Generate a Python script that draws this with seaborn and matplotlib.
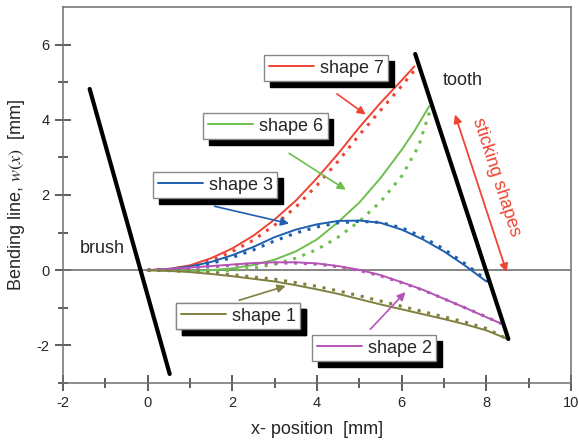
"""
Bending line of a brush filament between brush and tooth - shape comparison.
"""

import matplotlib
matplotlib.use("Agg")
import matplotlib.pyplot as plt
from matplotlib.lines import Line2D
import seaborn as sns


# ──────────────────────────────────────────────
# Data
# ──────────────────────────────────────────────

brush_x = [-1.37, 0.52]
brush_y = [4.82, -2.76]
tooth_x = [6.32, 8.52]
tooth_y = [5.75, -1.83]

shape7_x = [0, 0.5, 1, 1.5, 2, 2.5, 3, 3.5, 4, 4.5, 5, 5.5, 6, 6.3]
shape7_y = [0, 0.03, 0.13, 0.32, 0.58, 0.92, 1.35, 1.85, 2.45, 3.1, 3.8, 4.45, 5.05, 5.42]
shape7_dot_x = [0, 0.5, 1, 1.5, 2, 2.5, 3, 3.5, 4, 4.5, 5, 5.5, 6, 6.4]
shape7_dot_y = [0, 0.02, 0.1, 0.26, 0.5, 0.8, 1.2, 1.68, 2.26, 2.9, 3.6, 4.25, 4.9, 5.45]

shape6_x = [0, 0.5, 1, 1.5, 2, 2.5, 3, 3.5, 4, 4.5, 5, 5.5, 6, 6.3, 6.65]
shape6_y = [0, -0.01, -0.02, 0.0, 0.05, 0.14, 0.28, 0.5, 0.82, 1.28, 1.8, 2.45, 3.2, 3.7, 4.36]
shape6_dot_x = [0, 0.5, 1, 1.5, 2, 2.5, 3, 3.5, 4, 4.5, 5, 5.5, 6, 6.4, 6.7]
shape6_dot_y = [0, -0.01, -0.03, -0.03, 0.0, 0.06, 0.16, 0.32, 0.55, 0.88, 1.3, 1.82, 2.5, 3.3, 4.35]

shape3_x = [0, 0.5, 1, 1.5, 2, 2.5, 3, 3.5, 4, 4.5, 5, 5.5, 6, 6.5, 7, 7.5, 8.0]
shape3_y = [0, 0.03, 0.1, 0.22, 0.4, 0.62, 0.88, 1.08, 1.22, 1.31, 1.32, 1.26, 1.08, 0.82,
            0.5, 0.12, -0.3]
shape3_dot_x = [0, 0.5, 1, 1.5, 2, 2.5, 3, 3.5, 4, 4.5, 5, 5.5, 6, 6.5, 7, 7.5, 8.05]
shape3_dot_y = [0, 0.02, 0.08, 0.18, 0.34, 0.54, 0.78, 0.99, 1.15, 1.26, 1.3, 1.27, 1.13,
                0.88, 0.56, 0.17, -0.3]

shape2_x = [0, 0.5, 1, 1.5, 2, 2.5, 3, 3.5, 4, 4.5, 5, 5.5, 6, 6.5, 7, 7.5, 8, 8.35]
shape2_y = [0, 0.03, 0.07, 0.11, 0.15, 0.19, 0.21, 0.21, 0.18, 0.11, 0.01, -0.13, -0.32,
            -0.52, -0.76, -1.0, -1.25, -1.42]
shape2_dot_x = [0, 0.5, 1, 1.5, 2, 2.5, 3, 3.5, 4, 4.5, 5, 5.5, 6, 6.5, 7, 7.5, 8, 8.35]
shape2_dot_y = [0, 0.02, 0.05, 0.09, 0.13, 0.17, 0.19, 0.19, 0.16, 0.09, -0.01, -0.15, -0.33,
                -0.53, -0.76, -1.0, -1.24, -1.42]

shape1_x = [0, 0.5, 1, 1.5, 2, 2.5, 3, 3.5, 4, 4.5, 5, 5.5, 6, 6.5, 7, 7.5, 8, 8.5]
shape1_y = [0, -0.02, -0.05, -0.1, -0.16, -0.23, -0.3, -0.4, -0.51, -0.63, -0.77, -0.91,
            -1.04, -1.17, -1.3, -1.44, -1.6, -1.83]
shape1_dot_x = [0, 0.5, 1, 1.5, 2, 2.5, 3, 3.5, 4, 4.5, 5, 5.5, 6, 6.5, 7, 7.5, 8, 8.5]
shape1_dot_y = [0, -0.01, -0.03, -0.07, -0.12, -0.18, -0.24, -0.33, -0.43, -0.55, -0.68,
                -0.82, -0.96, -1.1, -1.24, -1.38, -1.55, -1.83]

x_ticks = [-2, 0, 2, 4, 6, 8, 10]
y_ticks = [-2, 0, 2, 4, 6]


# ──────────────────────────────────────────────
# Style
# ──────────────────────────────────────────────

sns.set_theme(style="white")
plt.rcParams["font.family"] = ["Liberation Sans", "DejaVu Sans"]
plt.rcParams["mathtext.fontset"] = "stix"
plt.rcParams["axes.unicode_minus"] = False

RED = "#EE4433"
GREEN = "#6CBF4E"
BLUE = "#1F5FB0"
PURPLE = "#B455B5"
OLIVE = "#808040"
AXIS_GREY = "#707070"
DOT = (0, (1, 2.2))

fig = plt.figure(figsize=(5.79, 4.44), dpi=100)
ax = fig.add_axes([63 / 579, 1 - 383 / 444, 508 / 579, 376 / 444])

ax.axhline(0, color=AXIS_GREY, lw=1.2, zorder=1)

# ──────────────────────────────────────────────
# Curves
# ──────────────────────────────────────────────

series = [
    ("shape 7", RED, shape7_x, shape7_y, shape7_dot_x, shape7_dot_y),
    ("shape 6", GREEN, shape6_x, shape6_y, shape6_dot_x, shape6_dot_y),
    ("shape 3", BLUE, shape3_x, shape3_y, shape3_dot_x, shape3_dot_y),
    ("shape 2", PURPLE, shape2_x, shape2_y, shape2_dot_x, shape2_dot_y),
    ("shape 1", OLIVE, shape1_x, shape1_y, shape1_dot_x, shape1_dot_y),
]

for name, col, xs, ys, xd, yd in series:
    sns.lineplot(x=xs, y=ys, ax=ax, color=col, lw=1.4, sort=False, estimator=None, zorder=3)
    sns.lineplot(x=xd, y=yd, ax=ax, color=col, lw=2.2, linestyle=DOT, sort=False,
                 estimator=None, zorder=3)

sns.lineplot(x=brush_x, y=brush_y, ax=ax, color="black", lw=3, sort=False, estimator=None, zorder=4)
sns.lineplot(x=tooth_x, y=tooth_y, ax=ax, color="black", lw=3, sort=False, estimator=None, zorder=4)

# ──────────────────────────────────────────────
# Axes
# ──────────────────────────────────────────────

ax.set_xlim(-2, 10)
ax.set_ylim(-3, 7)
ax.set_xticks(x_ticks)
ax.set_yticks(y_ticks)
ax.set_xticks([-1, 1, 3, 5, 7, 9], minor=True)
ax.set_yticks([-3, -1, 1, 3, 5], minor=True)
ax.tick_params(which="major", direction="inout", length=11, width=1.1, color="#333333",
               labelsize=10.5, pad=4, bottom=True, left=True)
ax.tick_params(which="minor", direction="inout", length=7, width=1.1, color="#333333",
               bottom=True, left=True)
for side in ["top", "right", "bottom", "left"]:
    ax.spines[side].set_visible(True)
    ax.spines[side].set_color(AXIS_GREY)
    ax.spines[side].set_linewidth(1.1)

ax.set_xlabel("x- position  [mm]", fontsize=13)
ax.set_ylabel(r"Bending line, $w(x)$  [mm]", fontsize=13)
ax.xaxis.set_label_coords(0.5, -0.1)
ax.yaxis.set_label_coords(-0.07, 0.5)

# ──────────────────────────────────────────────
# Shape labels with shadow boxes
# ──────────────────────────────────────────────

label_boxes = {
    "shape 7": (264, 55),
    "shape 6": (203, 113),
    "shape 3": (153, 172),
    "shape 1": (176, 303),
    "shape 2": (312, 335),
}
for name, col, *_ in series:
    px, py = label_boxes[name]
    handle = Line2D([], [], color=col, lw=1.4)
    leg = ax.legend([handle], [name], loc="upper left",
                    bbox_to_anchor=(px / 579, 1 - py / 444), bbox_transform=fig.transFigure,
                    borderaxespad=0, fontsize=13, handlelength=2.5, handletextpad=0.35,
                    borderpad=0.25, fancybox=False, framealpha=1, edgecolor="#888888",
                    shadow={"ox": 4, "oy": -4, "color": "black", "alpha": 1})
    leg.get_frame().set_linewidth(1.0)
    ax.add_artist(leg)

arrows = [
    (RED, (4.47, 4.69), (5.15, 4.14)),
    (GREEN, (3.34, 3.11), (4.68, 2.14)),
    (BLUE, (1.58, 1.70), (3.34, 1.24)),
    (OLIVE, (2.16, -0.80), (3.26, -0.42)),
    (PURPLE, (5.26, -1.57), (6.09, -0.58)),
]
for col, start, end in arrows:
    ax.annotate("", xy=end, xytext=start,
                arrowprops=dict(arrowstyle="-|>", color=col, lw=1.2, mutation_scale=12,
                                shrinkA=0, shrinkB=0))

ax.annotate("", xy=(8.48, -0.05), xytext=(7.26, 4.14),
            arrowprops=dict(arrowstyle="<|-|>", color=RED, lw=1.3, mutation_scale=12,
                            shrinkA=0, shrinkB=0))

ax.text(7.44, 5.04, "tooth", fontsize=13, ha="center", va="center")
ax.text(-1.08, 0.58, "brush", fontsize=13, ha="center", va="center")
ax.text(8.24, 2.47, "sticking shapes", fontsize=13, color=RED, ha="center", va="center",
        rotation=-72, rotation_mode="anchor")

fig.savefig("out.png", dpi=100)
